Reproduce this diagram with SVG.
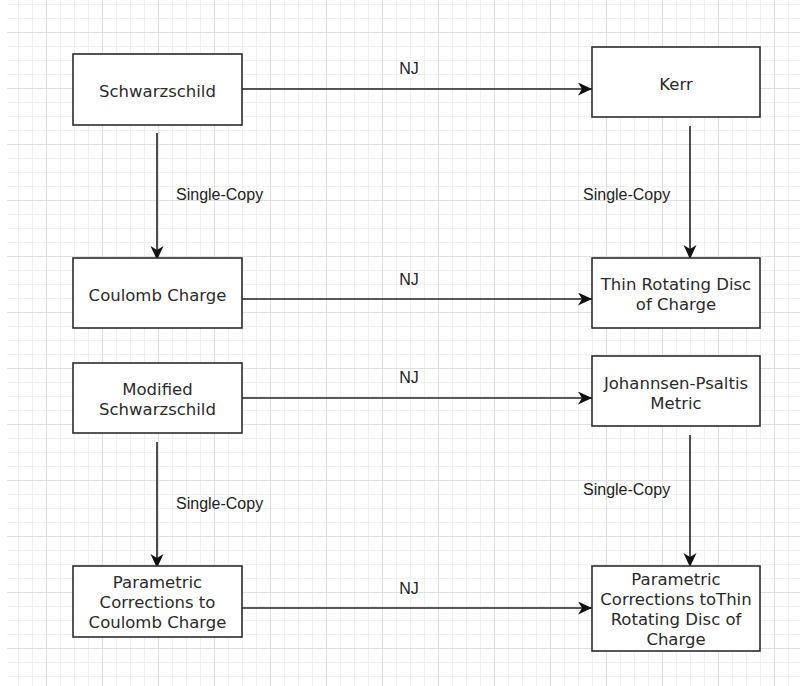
<svg xmlns="http://www.w3.org/2000/svg" width="800" height="686" viewBox="0 0 800 686">
<style>
.box{fill:#ffffff;stroke:#2b2b2b;stroke-width:1.6}
.nt{font-family:"DejaVu Sans","Open Sans",sans-serif;font-size:16.5px;fill:#2a2a2a;text-anchor:middle}
.lb{font-family:"Liberation Sans",Arial,sans-serif;font-size:16px;fill:#222}
.lbm{font-family:"Liberation Sans",Arial,sans-serif;font-size:16px;fill:#222;text-anchor:middle}
.edge{fill:none;stroke:#222;stroke-width:1.6;marker-end:url(#arr)}
</style>
<defs>
<pattern id="grid" patternUnits="userSpaceOnUse" x="46" y="32" width="56" height="56">
<path d="M14.5 0V56M28.5 0V56M42.5 0V56M0 14.5H56M0 28.5H56M0 42.5H56" stroke="#f0f0f0" stroke-width="1" fill="none"/>
<path d="M0.5 0V56M0 0.5H56" stroke="#e0e0e0" stroke-width="1" fill="none"/>
</pattern>
<marker id="arr" markerUnits="userSpaceOnUse" markerWidth="16" markerHeight="14" refX="14" refY="6.5" orient="auto">
<path d="M0,0 L14,6.5 L0,13 L4,6.5 Z" fill="#111"/>
</marker>
</defs>
<rect x="0" y="0" width="800" height="686" fill="#ffffff"/>
<rect x="7" y="0" width="793" height="686" fill="url(#grid)"/>

<g id="connectors">
<path class="edge" d="M242 89H592"/>
<path class="edge" d="M242 299H592"/>
<path class="edge" d="M242 398H592"/>
<path class="edge" d="M242 608H592"/>
<path class="edge" d="M157 133V260"/>
<path class="edge" d="M690 126V259"/>
<path class="edge" d="M157 442V568"/>
<path class="edge" d="M690 435V567"/>
<text class="lbm" x="409" y="74">NJ</text>
<text class="lbm" x="409" y="285">NJ</text>
<text class="lbm" x="409" y="383">NJ</text>
<text class="lbm" x="409" y="594">NJ</text>
<text class="lb" x="176" y="200">Single-Copy</text>
<text class="lb" x="583" y="200">Single-Copy</text>
<text class="lb" x="176" y="509">Single-Copy</text>
<text class="lb" x="583" y="495">Single-Copy</text>
</g>

<g id="schwarzschild">
<rect class="box" x="73" y="54" width="169" height="71"/>
<text class="nt" x="157.5" y="96.5">Schwarzschild</text>
</g>
<g id="kerr">
<rect class="box" x="592" y="47" width="168" height="70"/>
<text class="nt" x="676" y="90">Kerr</text>
</g>
<g id="coulomb">
<rect class="box" x="73" y="258" width="169" height="70"/>
<text class="nt" x="157.5" y="301">Coulomb Charge</text>
</g>
<g id="thin-disc">
<rect class="box" x="592" y="258" width="168" height="70"/>
<text class="nt" x="676" y="290">Thin Rotating Disc</text>
<text class="nt" x="676" y="310">of Charge</text>
</g>
<g id="modified-schwarzschild">
<rect class="box" x="73" y="363" width="169" height="70"/>
<text class="nt" x="157.5" y="395">Modified</text>
<text class="nt" x="157.5" y="415">Schwarzschild</text>
</g>
<g id="johannsen-psaltis">
<rect class="box" x="592" y="356" width="168" height="70"/>
<text class="nt" x="676" y="389">Johannsen-Psaltis</text>
<text class="nt" x="676" y="409">Metric</text>
</g>
<g id="param-coulomb">
<rect class="box" x="73" y="566" width="169" height="71"/>
<text class="nt" x="157.5" y="588">Parametric</text>
<text class="nt" x="157.5" y="608">Corrections to</text>
<text class="nt" x="157.5" y="628">Coulomb Charge</text>
</g>
<g id="param-thin-disc">
<rect class="box" x="592" y="566" width="168" height="85"/>
<text class="nt" x="676" y="585">Parametric</text>
<text class="nt" x="676" y="605">Corrections toThin</text>
<text class="nt" x="676" y="625">Rotating Disc of</text>
<text class="nt" x="676" y="645">Charge</text>
</g>
</svg>
